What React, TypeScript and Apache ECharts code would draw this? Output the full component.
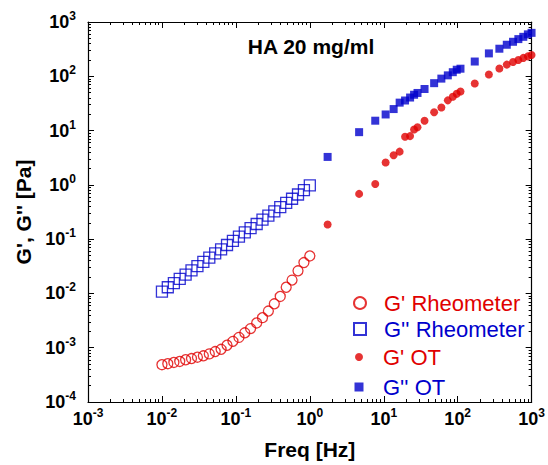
import React, { useEffect, useRef } from 'react';
import * as echarts from 'echarts';

// ---- data ----
const rheoFreq = [0.01, 0.012, 0.0145, 0.0174, 0.0209, 0.0251, 0.0302, 0.0363, 0.0437, 0.0525, 0.0631, 0.0759, 0.0912, 0.11, 0.132, 0.158, 0.191, 0.229, 0.275, 0.331, 0.398, 0.479, 0.575, 0.692, 0.832, 1.0];
const gPrimeRheo = [4.86e-4, 5.07e-4, 5.36e-4, 5.58e-4, 6.0e-4, 6.32e-4, 6.68e-4, 7.1e-4, 7.7e-4, 8.5e-4, 9.35e-4, 1.11e-3, 1.31e-3, 1.55e-3, 1.88e-3, 2.25e-3, 2.86e-3, 3.58e-3, 4.74e-3, 6.44e-3, 8.79e-3, 1.3e-2, 1.76e-2, 2.61e-2, 3.7e-2, 4.9e-2];
const gDoubleRheo = [0.0108, 0.013, 0.0155, 0.0185, 0.0222, 0.0265, 0.0318, 0.038, 0.0455, 0.0545, 0.065, 0.078, 0.093, 0.111, 0.133, 0.159, 0.19, 0.228, 0.272, 0.325, 0.39, 0.465, 0.555, 0.665, 0.8, 0.98];
const otFreq = [1.74, 4.64, 7.67, 10.6, 13.6, 16.4, 19.4, 22.7, 25.7, 28.6, 35.6, 48.0, 60.1, 73.5, 85.8, 97.0, 109, 170, 264, 366, 461, 560, 661, 771, 889, 997];
const gPrimeOT = [0.186, 0.682, 1.04, 2.58, 3.51, 4.09, 7.69, 7.91, 10.5, 11.5, 15.2, 21.7, 26.7, 36.0, 42.1, 47.5, 52.5, 73.5, 108, 139, 164, 183, 200, 218, 233, 247];
const gDoubleOT = [3.27, 9.35, 15.2, 19.8, 24.9, 32.7, 35.8, 40.6, 45.7, 49.3, 58.3, 74.7, 90.6, 104, 119, 132, 138, 187, 264, 322, 381, 432, 484, 533, 592, 631];

const seriesNames = ["G' Rheometer", "G'' Rheometer", "G' OT", "G'' OT"];
const titleText = 'HA 20 mg/ml';
const xTitle = 'Freq [Hz]';
const yTitle = "G', G'' [Pa]";

const RED = '#e00000';
const BLUE = '#0000cc';
const FONT = "'Liberation Sans', Arial, Helvetica, sans-serif";

const pair = (xs: number[], ys: number[]) => xs.map((x, i) => [x, ys[i]]);

const tickLabel = (v: number) => {
  const e = Math.round(Math.log10(v));
  return `{b|10}{s|${e}}`;
};

const labelRich = {
  b: { fontSize: 18, fontWeight: 'bold', fontFamily: FONT, color: '#000', lineHeight: 24 },
  s: { fontSize: 12, fontWeight: 'bold', fontFamily: FONT, color: '#000', verticalAlign: 'top', lineHeight: 14 },
};

const axisCommon = {
  type: 'log' as const,
  logBase: 10,
  axisLine: { show: true, onZero: false, lineStyle: { color: '#000', width: 1.2 } },
  axisTick: { show: true, inside: true, length: 6, lineStyle: { color: '#000', width: 1 } },
  minorTick: { show: true, splitNumber: 9, length: 3, lineStyle: { color: '#000', width: 1 } },
  splitLine: { show: false },
  minorSplitLine: { show: false },
};

export default function App() {
  const ref = useRef<HTMLDivElement>(null);
  useEffect(() => {
    if (!ref.current) return;
    const chart = echarts.init(ref.current, undefined, { renderer: 'svg' });
    const ICON_CX = 359;
    const TEXT_X = 383;
    const legendRows = [
      { name: seriesNames[0], color: RED, center: 303, size: 12 },
      { name: seriesNames[1], color: BLUE, center: 329, size: 12 },
      { name: seriesNames[2], color: RED, center: 357, size: 8 },
      { name: seriesNames[3], color: BLUE, center: 387, size: 9 },
    ];
    chart.setOption({
      animation: false,
      backgroundColor: '#fff',
      grid: { left: 88, right: 13, top: 22, bottom: 59, containLabel: false },
      xAxis: [
        {
          ...axisCommon,
          position: 'bottom',
          min: 0.001,
          max: 1000,
          splitNumber: 6,
          name: xTitle,
          nameLocation: 'middle',
          nameGap: 37,
          nameTextStyle: { fontSize: 21, fontWeight: 'bold', fontFamily: FONT, color: '#000' },
          axisLabel: { show: true, margin: 5, formatter: tickLabel, rich: labelRich },
        },
        {
          ...axisCommon,
          position: 'top',
          min: 0.001,
          max: 1000,
          splitNumber: 6,
          axisLabel: { show: false },
        },
      ],
      yAxis: [
        {
          ...axisCommon,
          position: 'left',
          min: 0.0001,
          max: 1000,
          splitNumber: 7,
          name: yTitle,
          nameLocation: 'middle',
          nameGap: 34,
          nameTextStyle: { fontSize: 21, fontWeight: 'bold', fontFamily: FONT, color: '#000' },
          axisLabel: { show: true, margin: 12, formatter: tickLabel, rich: labelRich },
        },
        {
          ...axisCommon,
          position: 'right',
          min: 0.0001,
          max: 1000,
          splitNumber: 7,
          axisLabel: { show: false },
        },
      ],
      legend: legendRows.map((r) => ({
        data: [{ name: r.name, textStyle: { color: r.color } }],
        orient: 'vertical',
        left: ICON_CX - r.size / 2,
        top: r.center - 11,
        padding: 0,
        itemWidth: r.size,
        itemHeight: r.size,
        selectedMode: false,
        textStyle: {
          fontSize: 22,
          fontFamily: FONT,
          lineHeight: 22,
          color: r.color,
          padding: [0, 0, 0, TEXT_X - (ICON_CX + r.size / 2 + 5)],
        },
      })),
      graphic: [
        {
          type: 'text',
          x: 311,
          y: 46,
          style: {
            text: titleText,
            align: 'center',
            verticalAlign: 'middle',
            textAlign: 'center',
            textVerticalAlign: 'middle',
            font: `bold 21px ${FONT}`,
            fill: '#000',
          },
        },
      ],
      series: [
        {
          name: seriesNames[0],
          type: 'scatter',
          data: pair(rheoFreq, gPrimeRheo),
          symbol: 'circle',
          symbolSize: 10,
          itemStyle: { color: 'rgba(0,0,0,0)', borderColor: RED, borderWidth: 1.3 },
        },
        {
          name: seriesNames[1],
          type: 'scatter',
          data: pair(rheoFreq, gDoubleRheo),
          symbol: 'rect',
          symbolSize: 11,
          itemStyle: { color: 'rgba(0,0,0,0)', borderColor: BLUE, borderWidth: 1.3 },
        },
        {
          name: seriesNames[2],
          type: 'scatter',
          data: pair(otFreq, gPrimeOT),
          symbol: 'circle',
          symbolSize: 8,
          itemStyle: { color: RED },
        },
        {
          name: seriesNames[3],
          type: 'scatter',
          data: pair(otFreq, gDoubleOT),
          symbol: 'rect',
          symbolSize: 8,
          itemStyle: { color: BLUE },
        },
      ],
    });
    return () => chart.dispose();
  }, []);
  return (
    <div
      ref={ref}
      style={{ position: 'fixed', left: 0, top: 0, width: 548, height: 465, background: '#fff' }}
    />
  );
}
